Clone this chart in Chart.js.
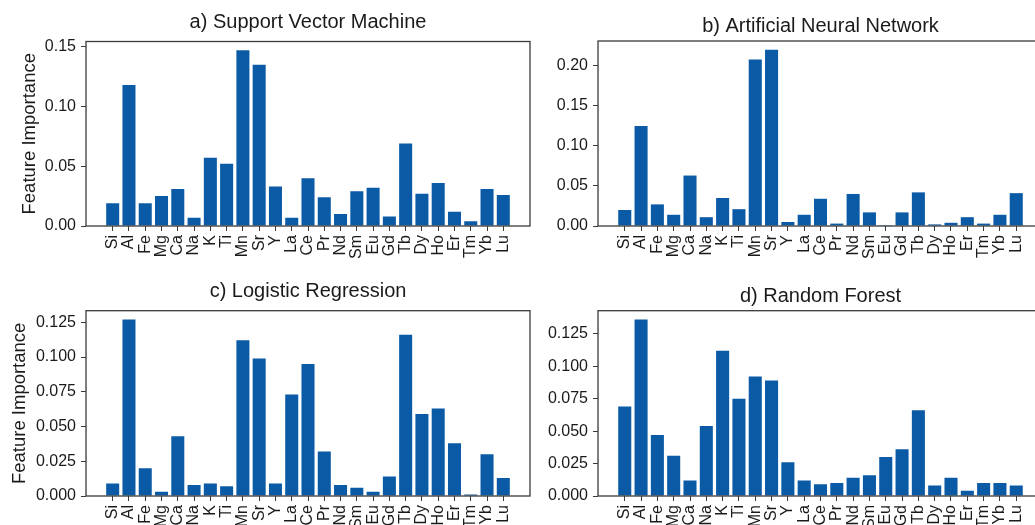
<!DOCTYPE html>
<html lang="en">
<head>
<meta charset="UTF-8">
<script src="https://cdn.jsdelivr.net/npm/chart.js"></script>
<title>Feature Importance</title>
<style>
  body { margin: 0; width: 1035px; height: 525px; overflow: hidden; background: #fff; position: relative; }
  canvas { position: absolute; }
</style>
</head>
<body>
<canvas id="svm" width="545" height="265" style="left:0;top:0"></canvas>
<canvas id="ann" width="545" height="265" style="left:520px;top:0"></canvas>
<canvas id="lr" width="545" height="265" style="left:0;top:270px"></canvas>
<canvas id="rf" width="545" height="265" style="left:520px;top:270px"></canvas>
<script>
const elements = ['Si','Al','Fe','Mg','Ca','Na','K','Ti','Mn','Sr','Y','La','Ce','Pr','Nd','Sm','Eu','Gd','Tb','Dy','Ho','Er','Tm','Yb','Lu'];

const svmValues = [0.019,0.118,0.019,0.025,0.031,0.007,0.057,0.052,0.147,0.135,0.033,0.007,0.040,0.024,0.010,0.029,0.032,0.008,0.069,0.027,0.036,0.012,0.004,0.031,0.026];
const annValues = [0.020,0.125,0.027,0.014,0.063,0.011,0.035,0.021,0.208,0.220,0.005,0.014,0.034,0.003,0.040,0.017,0.001,0.017,0.042,0.002,0.004,0.011,0.003,0.014,0.041];
const lrValues  = [0.009,0.127,0.020,0.003,0.043,0.008,0.009,0.007,0.112,0.099,0.009,0.073,0.095,0.032,0.008,0.006,0.003,0.014,0.116,0.059,0.063,0.038,0.001,0.030,0.013];
const rfValues  = [0.069,0.136,0.047,0.031,0.012,0.054,0.112,0.075,0.092,0.089,0.026,0.012,0.009,0.010,0.014,0.016,0.030,0.036,0.066,0.008,0.014,0.004,0.010,0.010,0.008];

const ticksSmall = [0, 0.05, 0.10, 0.15];
const ticksAnn = [0, 0.05, 0.10, 0.15, 0.20];
const ticksFine = [0, 0.025, 0.05, 0.075, 0.10, 0.125];

const barColor = '#0b5aa6';
const inkColor = '#1a1a1a';
const frameColor = '#3a3a3a';
const fontFamily = '"Liberation Sans", Arial, sans-serif';

// draw the top and right spines too
const framePlugin = {
  id: 'frame',
  afterDatasetsDraw(chart) {
    const { ctx, chartArea: a } = chart;
    ctx.save();
    ctx.strokeStyle = frameColor;
    ctx.lineWidth = 1.3;
    ctx.strokeRect(a.left, a.top, a.right - a.left, a.bottom - a.top);
    ctx.restore();
  }
};

function makePanel(id, title, values, yTicks, decimals, box) {
  const n = elements.length;
  const pad = 0.05 * (n - 1 + 0.8);
  const ctx = document.getElementById(id).getContext('2d');
  new Chart(ctx, {
    type: 'bar',
    data: {
      datasets: [{
        data: values.map((v, i) => ({ x: i, y: v })),
        backgroundColor: barColor,
        borderWidth: 0,
        categoryPercentage: 1,
        barPercentage: 0.8
      }]
    },
    options: {
      responsive: false,
      animation: false,
      layout: { padding: { left: 0, right: box.padRight, top: 0, bottom: 0 } },
      plugins: {
        legend: { display: false },
        tooltip: { enabled: false },
        title: {
          display: true,
          text: title,
          color: inkColor,
          fullSize: false,
          font: { size: 20, family: fontFamily, weight: 'normal' },
          padding: { top: box.titleTop, bottom: box.titleBottom }
        }
      },
      scales: {
        x: {
          type: 'linear',
          offset: false,
          min: -0.4 - pad,
          max: n - 1 + 0.4 + pad,
          border: { display: false },
          grid: { offset: false, drawOnChartArea: false, drawTicks: true, tickLength: 5, color: frameColor },
          afterBuildTicks: (scale) => { scale.ticks = elements.map((e, i) => ({ value: i })); },
          afterFit: (scale) => { scale.height = box.xHeight; },
          ticks: {
            autoSkip: false,
            minRotation: 90,
            maxRotation: 90,
            padding: 4,
            color: inkColor,
            font: { size: 16, family: fontFamily },
            callback: (v) => elements[v]
          }
        },
        y: {
          min: 0,
          max: Math.max(...values) * 1.05,
          border: { display: false },
          grid: { drawOnChartArea: false, drawTicks: true, tickLength: 5, color: frameColor },
          afterBuildTicks: (scale) => { scale.ticks = yTicks.map(v => ({ value: v })); },
          afterFit: (scale) => { scale.width = box.yWidth; },
          ticks: {
            padding: 5,
            color: inkColor,
            font: { size: 16, family: fontFamily },
            callback: (v) => v.toFixed(decimals)
          },
          title: {
            display: !!box.yTitle,
            text: 'Feature Importance',
            color: inkColor,
            font: { size: 18.5, family: fontFamily },
            padding: { top: box.yTitlePad || 0, bottom: 0 }
          }
        }
      }
    },
    plugins: [framePlugin]
  });
}

makePanel('svm', 'a) Support Vector Machine', svmValues, ticksSmall, 2,
  { yWidth: 86, padRight: 15, xHeight: 39, titleTop: 10, titleBottom: 7.5, yTitle: true, yTitlePad: 19 });
makePanel('ann', 'b) Artificial Neural Network', annValues, ticksAnn, 2,
  { yWidth: 78, padRight: 22, xHeight: 39, titleTop: 14.5, titleBottom: 2.5, yTitle: false });
makePanel('lr', 'c) Logistic Regression', lrValues, ticksFine, 3,
  { yWidth: 86, padRight: 15, xHeight: 39, titleTop: 9, titleBottom: 7.7, yTitle: true, yTitlePad: 9 });
makePanel('rf', 'd) Random Forest', rfValues, ticksFine, 3,
  { yWidth: 78, padRight: 22, xHeight: 39, titleTop: 14, titleBottom: 2.7, yTitle: false });
</script>
</body>
</html>
